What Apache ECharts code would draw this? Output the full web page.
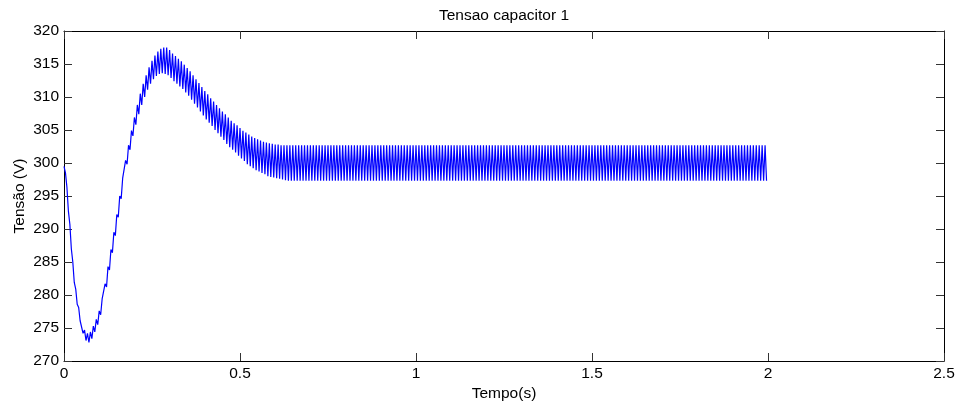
<!DOCTYPE html>
<html>
<head>
<meta charset="utf-8">
<title>Tensao capacitor 1</title>
<script src="https://cdn.jsdelivr.net/npm/echarts@6/dist/echarts.min.js"></script>
<style>
  html, body { margin: 0; padding: 0; background: #fff; }
  #chart { width: 959px; height: 407px; }
</style>
</head>
<body>
<div id="chart"></div>
<script>
///////////////////////////////////////////////////
// Used data
///////////////////////////////////////////////////

// Ripple period (120 Hz): one peak and one valley per period
const periodo = 1 / 120;

// Peak value of each ripple period (V)
const vPico = [
  299.5, 296.3, 290.7, 285.0, 280.9, 278.1, 276.0, 274.7, 274.2, 274.4,
  275.3, 276.3, 277.6, 279.4, 281.7, 284.3, 286.9, 289.5, 292.2, 295.0,
  297.7, 300.4, 302.7, 304.9, 306.9, 308.8, 310.5, 312.0, 313.3, 314.5,
  315.5, 316.3, 316.9, 317.3, 317.5, 317.5, 317.1, 316.6, 316.2, 315.8,
  315.4, 314.9, 314.4, 313.9, 313.3, 312.7, 312.1, 311.5, 310.9, 310.4,
  309.8, 309.3, 308.8, 308.3, 307.8, 307.4, 306.9, 306.4, 306.0, 305.7,
  305.3, 304.9, 304.6, 304.3, 304.0, 303.8, 303.6, 303.4, 303.2, 303.1,
  303.0, 302.9, 302.8, 302.8, 302.7, 302.7, 302.7, 302.7, 302.7, 302.7,
  302.7, 302.7, 302.7, 302.7, 302.7, 302.7, 302.7, 302.7, 302.7, 302.7,
  302.7, 302.7, 302.7, 302.7, 302.7, 302.7, 302.7, 302.7, 302.7, 302.7,
  302.7, 302.7, 302.7, 302.7, 302.7, 302.7, 302.7, 302.7, 302.7, 302.7,
  302.7, 302.7, 302.7, 302.7, 302.7, 302.7, 302.7, 302.7, 302.7, 302.7,
  302.7, 302.7, 302.7, 302.7, 302.7, 302.7, 302.7, 302.7, 302.7, 302.7,
  302.7, 302.7, 302.7, 302.7, 302.7, 302.7, 302.7, 302.7, 302.7, 302.7,
  302.7, 302.7, 302.7, 302.7, 302.7, 302.7, 302.7, 302.7, 302.7, 302.7,
  302.7, 302.7, 302.7, 302.7, 302.7, 302.7, 302.7, 302.7, 302.7, 302.7,
  302.7, 302.7, 302.7, 302.7, 302.7, 302.7, 302.7, 302.7, 302.7, 302.7,
  302.7, 302.7, 302.7, 302.7, 302.7, 302.7, 302.7, 302.7, 302.7, 302.7,
  302.7, 302.7, 302.7, 302.7, 302.7, 302.7, 302.7, 302.7, 302.7, 302.7,
  302.7, 302.7, 302.7, 302.7, 302.7, 302.7, 302.7, 302.7, 302.7, 302.7,
  302.7, 302.7, 302.7, 302.7, 302.7, 302.7, 302.7, 302.7, 302.7, 302.7,
  302.7, 302.7, 302.7, 302.7, 302.7, 302.7, 302.7, 302.7, 302.7, 302.7,
  302.7, 302.7, 302.7, 302.7, 302.7, 302.7, 302.7, 302.7, 302.7, 302.7,
  302.7, 302.7, 302.7, 302.7, 302.7, 302.7, 302.7, 302.7, 302.7, 302.7,
];

// Valley value of each ripple period (V), half a period after the peak
const vVale = [
  298.5, 292.7, 287.0, 281.9, 278.6, 276.1, 274.2, 273.1, 272.8, 273.4,
  274.4, 275.5, 277.0, 279.1, 281.2, 283.8, 286.4, 289.0, 291.8, 294.6,
  297.4, 299.8, 302.0, 304.1, 305.8, 307.4, 308.8, 310.0, 311.1, 312.0,
  312.7, 313.2, 313.5, 313.6, 313.5, 313.3, 312.9, 312.4, 312.0, 311.6,
  311.2, 310.7, 310.2, 309.6, 309.0, 308.4, 307.8, 307.2, 306.6, 306.1,
  305.6, 305.0, 304.5, 304.0, 303.5, 302.9, 302.4, 302.0, 301.6, 301.1,
  300.7, 300.3, 299.8, 299.5, 299.2, 298.9, 298.7, 298.5, 298.3, 298.0,
  297.9, 297.8, 297.7, 297.6, 297.5, 297.4, 297.3, 297.3, 297.3, 297.3,
  297.3, 297.3, 297.3, 297.3, 297.3, 297.3, 297.3, 297.3, 297.3, 297.3,
  297.3, 297.3, 297.3, 297.3, 297.3, 297.3, 297.3, 297.3, 297.3, 297.3,
  297.3, 297.3, 297.3, 297.3, 297.3, 297.3, 297.3, 297.3, 297.3, 297.3,
  297.3, 297.3, 297.3, 297.3, 297.3, 297.3, 297.3, 297.3, 297.3, 297.3,
  297.3, 297.3, 297.3, 297.3, 297.3, 297.3, 297.3, 297.3, 297.3, 297.3,
  297.3, 297.3, 297.3, 297.3, 297.3, 297.3, 297.3, 297.3, 297.3, 297.3,
  297.3, 297.3, 297.3, 297.3, 297.3, 297.3, 297.3, 297.3, 297.3, 297.3,
  297.3, 297.3, 297.3, 297.3, 297.3, 297.3, 297.3, 297.3, 297.3, 297.3,
  297.3, 297.3, 297.3, 297.3, 297.3, 297.3, 297.3, 297.3, 297.3, 297.3,
  297.3, 297.3, 297.3, 297.3, 297.3, 297.3, 297.3, 297.3, 297.3, 297.3,
  297.3, 297.3, 297.3, 297.3, 297.3, 297.3, 297.3, 297.3, 297.3, 297.3,
  297.3, 297.3, 297.3, 297.3, 297.3, 297.3, 297.3, 297.3, 297.3, 297.3,
  297.3, 297.3, 297.3, 297.3, 297.3, 297.3, 297.3, 297.3, 297.3, 297.3,
  297.3, 297.3, 297.3, 297.3, 297.3, 297.3, 297.3, 297.3, 297.3, 297.3,
  297.3, 297.3, 297.3, 297.3, 297.3, 297.3, 297.3, 297.3, 297.3, 297.3,
  297.3, 297.3, 297.3, 297.3, 297.3, 297.3, 297.3, 297.3, 297.3, 297.3,
];

// Axis ranges and tick steps
const xRange = [0, 2.5];
const xStep = 0.5;
const yRange = [270, 320];
const yStep = 5;

// Interleave peaks and valleys on the time base
const serie = [];
vPico.forEach((p, k) => {
  serie.push([k * periodo, p]);
  serie.push([k * periodo + periodo / 2, vVale[k]]);
});

///////////////////////////////////////////////////
// Chart
///////////////////////////////////////////////////
const FONT = "'Liberation Sans', Arial, Helvetica, sans-serif";
const FS = 15.5;

const axisLine = { show: true, onZero: false, lineStyle: { color: '#000', width: 1 } };
const axisTick = { show: true, inside: true, length: 8, lineStyle: { color: '#333', width: 1 } };

const xBase = {
  type: 'value',
  min: xRange[0],
  max: xRange[1],
  interval: xStep,
  axisLine: axisLine,
  axisTick: axisTick,
  splitLine: { show: false },
};
const yBase = {
  type: 'value',
  min: yRange[0],
  max: yRange[1],
  interval: yStep,
  axisLine: axisLine,
  axisTick: axisTick,
  splitLine: { show: false },
};

var myChart = echarts.init(document.getElementById('chart'), null, { renderer: 'canvas' });

myChart.setOption({
  animation: false,
  backgroundColor: '#fff',
  textStyle: { fontFamily: FONT },
  title: {
    text: 'Tensao capacitor 1',
    left: 504,
    top: 8,
    padding: 0,
    textAlign: 'center',
    textStyle: { fontFamily: FONT, fontSize: FS, fontWeight: 'normal', color: '#000' },
  },
  grid: { left: 64, top: 31, width: 880, height: 330, containLabel: false },
  xAxis: [
    Object.assign({}, xBase, {
      position: 'bottom',
      name: 'Tempo(s)',
      nameLocation: 'middle',
      nameGap: 25,
      nameMoveOverlap: false,
      nameTextStyle: { fontFamily: FONT, fontSize: FS, color: '#000' },
      axisLabel: { fontFamily: FONT, fontSize: FS, color: '#000', margin: 5 },
    }),
    Object.assign({}, xBase, { position: 'top', axisLabel: { show: false } }),
  ],
  yAxis: [
    Object.assign({}, yBase, {
      position: 'left',
      name: 'Tensão (V)',
      nameLocation: 'middle',
      nameGap: 36,
      nameMoveOverlap: false,
      nameTextStyle: { fontFamily: FONT, fontSize: FS, color: '#000' },
      axisLabel: { fontFamily: FONT, fontSize: FS, color: '#000', margin: 5 },
    }),
    Object.assign({}, yBase, { position: 'right', axisLabel: { show: false } }),
  ],
  series: [
    {
      name: 'Tensao capacitor 1',
      type: 'line',
      xAxisIndex: 0,
      yAxisIndex: 0,
      data: serie,
      showSymbol: false,
      symbol: 'none',
      sampling: null,
      lineStyle: { color: '#0000ff', width: 1.2 },
      emphasis: { disabled: true },
    },
  ],
});
</script>
</body>
</html>
